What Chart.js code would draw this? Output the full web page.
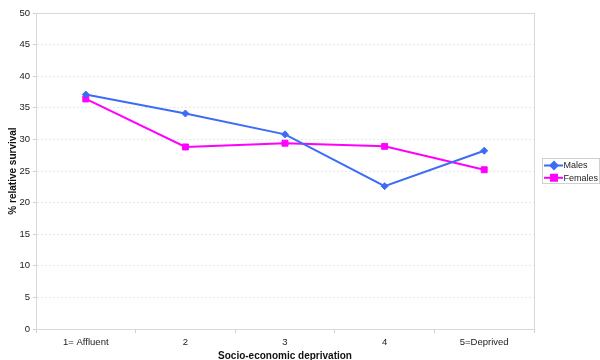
<!DOCTYPE html>
<html>
<head>
<meta charset="utf-8">
<script src="https://cdn.jsdelivr.net/npm/chart.js@4.4.1/dist/chart.umd.min.js"></script>
<style>
  html, body { margin: 0; padding: 0; background: #fff; }
  #wrap { width: 600px; height: 360px; position: relative; }
</style>
</head>
<body>
<div id="wrap"><canvas id="survivalChart"></canvas></div>
<script>
const categories = ['1= Affluent', '2', '3', '4', '5=Deprived'];
const malesValues = [37.1, 34.1, 30.8, 22.6, 28.2];
const femalesValues = [36.4, 28.8, 29.4, 28.9, 25.2];
const yTicks = [0, 5, 10, 15, 20, 25, 30, 35, 40, 45, 50];

const blue = '#3c6cf5';
const magenta = '#ff00ff';
const fontFamily = '"Liberation Sans", Arial, sans-serif';

// plot frame (light grey box round the chart area)
const framePlugin = {
    id: 'frame',
    afterDatasetsDraw(chart) {
        const a = chart.chartArea;
        const c = chart.ctx;
        c.save();
        c.strokeStyle = '#d8d8d8';
        c.lineWidth = 1;
        c.strokeRect(Math.round(a.left) + 0.5, Math.round(a.top) + 0.5,
            Math.round(a.right - a.left), Math.round(a.bottom - a.top));
        c.restore();
    }
};

// legend drawn like the original: small line + marker per series
const sideLegend = {
    id: 'sideLegend',
    afterDraw(chart) {
        const c = chart.ctx;
        const x = 542, y = 158, w = 57, h = 25;
        c.save();
        c.fillStyle = '#fff';
        c.fillRect(x, y, w, h);
        c.strokeStyle = '#d0d0d0';
        c.lineWidth = 1;
        c.strokeRect(x + 0.5, y + 0.5, w, h);
        chart.data.datasets.forEach((ds, i) => {
            const ly = y + 7.5 + i * 12.3;
            c.strokeStyle = ds.borderColor;
            c.lineWidth = 2;
            c.beginPath();
            c.moveTo(x + 2, ly);
            c.lineTo(x + 21, ly);
            c.stroke();
            Chart.helpers.drawPoint(c, {
                pointStyle: ds.pointStyle,
                radius: ds.pointStyle === 'rect' ? 4.2 : 3.5,
                borderWidth: 1
            }, x + 12, ly);
            c.fillStyle = ds.borderColor;
            c.fill();
            c.fillStyle = '#222';
            c.font = '9px ' + fontFamily;
            c.textBaseline = 'middle';
            c.textAlign = 'left';
            c.fillText(ds.label, x + 21.5, ly + 0.5);
        });
        c.restore();
    }
};

const ctx = document.getElementById('survivalChart').getContext('2d');
new Chart(ctx, {
    type: 'line',
    data: {
        labels: categories,
        datasets: [{
            label: 'Males',
            data: malesValues,
            borderColor: blue,
            backgroundColor: blue,
            borderWidth: 2,
            pointStyle: 'rectRot',
            pointRadius: 3.5,
            pointBorderWidth: 1,
            tension: 0
        }, {
            label: 'Females',
            data: femalesValues,
            borderColor: magenta,
            backgroundColor: magenta,
            borderWidth: 2,
            pointStyle: 'rect',
            pointRadius: 4.2,
            pointBorderWidth: 1,
            tension: 0
        }]
    },
    options: {
        responsive: true,
        maintainAspectRatio: false,
        animation: false,
        layout: {
            padding: { top: 13, right: 66, bottom: 0, left: 0 }
        },
        scales: {
            x: {
                offset: true,
                afterFit: (s) => { s.height = 31; },
                grid: {
                    offset: true,
                    drawOnChartArea: false,
                    tickLength: 4,
                    color: '#d0d0d0'
                },
                border: { color: '#d0d0d0' },
                ticks: {
                    color: '#222',
                    padding: 4,
                    maxRotation: 0,
                    font: { family: fontFamily, size: 9.5 }
                },
                title: {
                    display: true,
                    text: 'Socio-economic deprivation',
                    color: '#111',
                    padding: { top: 0, bottom: -2 },
                    font: { family: fontFamily, size: 10, weight: 'bold' }
                }
            },
            y: {
                min: 0,
                max: 50,
                afterFit: (s) => { s.width = 36; },
                afterBuildTicks: (s) => { s.ticks = yTicks.map(v => ({ value: v })); },
                grid: {
                    tickLength: 3,
                    color: '#e8e8e8',
                    tickColor: '#d0d0d0'
                },
                border: { color: '#d0d0d0', dash: [2, 2] },
                ticks: {
                    color: '#222',
                    padding: 3,
                    font: { family: fontFamily, size: 9.5 }
                },
                title: {
                    display: true,
                    text: '% relative survival',
                    color: '#111',
                    padding: { top: 7, bottom: 0 },
                    font: { family: fontFamily, size: 10, weight: 'bold' }
                }
            }
        },
        plugins: {
            legend: { display: false },
            tooltip: { enabled: false }
        }
    },
    plugins: [framePlugin, sideLegend]
});
</script>
</body>
</html>
